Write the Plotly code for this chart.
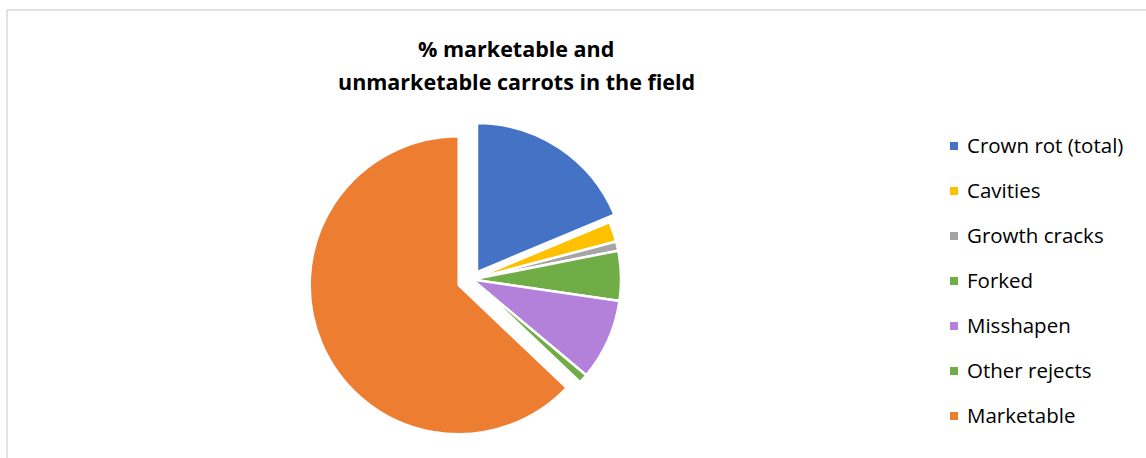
import plotly.graph_objects as go

labels = ["Crown rot (total)", "Cavities", "Growth cracks", "Forked",
          "Misshapen", "Other rejects", "Marketable"]
values = [18.7, 2.2, 1.0, 5.4, 8.8, 1.0, 62.9]
pulls = [0.06, 0, 0, 0, 0, 0, 0.097]
colors = ["#4472C4", "#FFC000", "#A5A5A5", "#70AD47",
          "#B381D9", "#70AD47", "#ED7D31"]
title_lines = ["% marketable and", "unmarketable carrots in the field"]

W, H = 1146, 458

def px(x):
    return x / W

def py(y):
    return 1 - y / H

fig = go.Figure()
fig.add_trace(go.Pie(
    labels=labels, values=values, sort=False, direction="clockwise",
    rotation=0, pull=pulls,
    marker=dict(colors=colors, line=dict(color="white", width=2.5)),
    textinfo="none", hoverinfo="label+value", showlegend=False,
    domain=dict(x=[px(302), px(642)], y=[py(443), py(116)]),
))

annotations = []
for i, line in enumerate(title_lines):
    annotations.append(dict(
        text="<b>" + line + "</b>", x=px(516), y=py(48 + 33 * i),
        xref="paper", yref="paper", xanchor="center", yanchor="middle",
        showarrow=False, font=dict(family="Open Sans", size=21.5, color="#000000"),
    ))

shapes = [
    dict(type="line", xref="paper", yref="paper", x0=px(7), x1=1, y0=py(10), y1=py(10),
         line=dict(color="#D9D9D9", width=1.5)),
    dict(type="line", xref="paper", yref="paper", x0=px(7), x1=px(7), y0=py(10), y1=0,
         line=dict(color="#D9D9D9", width=1.5)),
]

for i, (lab, col) in enumerate(zip(labels, colors)):
    yc = 146 + 45 * i
    shapes.append(dict(type="rect", xref="paper", yref="paper",
                       x0=px(950), x1=px(958), y0=py(yc + 4), y1=py(yc - 4),
                       fillcolor=col, line=dict(width=0)))
    annotations.append(dict(
        text=lab, x=px(965), y=py(yc - 1), xref="paper", yref="paper",
        xanchor="left", yanchor="middle", showarrow=False,
        font=dict(family="Open Sans", size=20.5, color="#000000"),
    ))

fig.update_layout(
    width=W, height=H, margin=dict(l=0, r=0, t=0, b=0),
    paper_bgcolor="white", plot_bgcolor="white",
    annotations=annotations, shapes=shapes, showlegend=False,
)

fig.write_html("out.html")
